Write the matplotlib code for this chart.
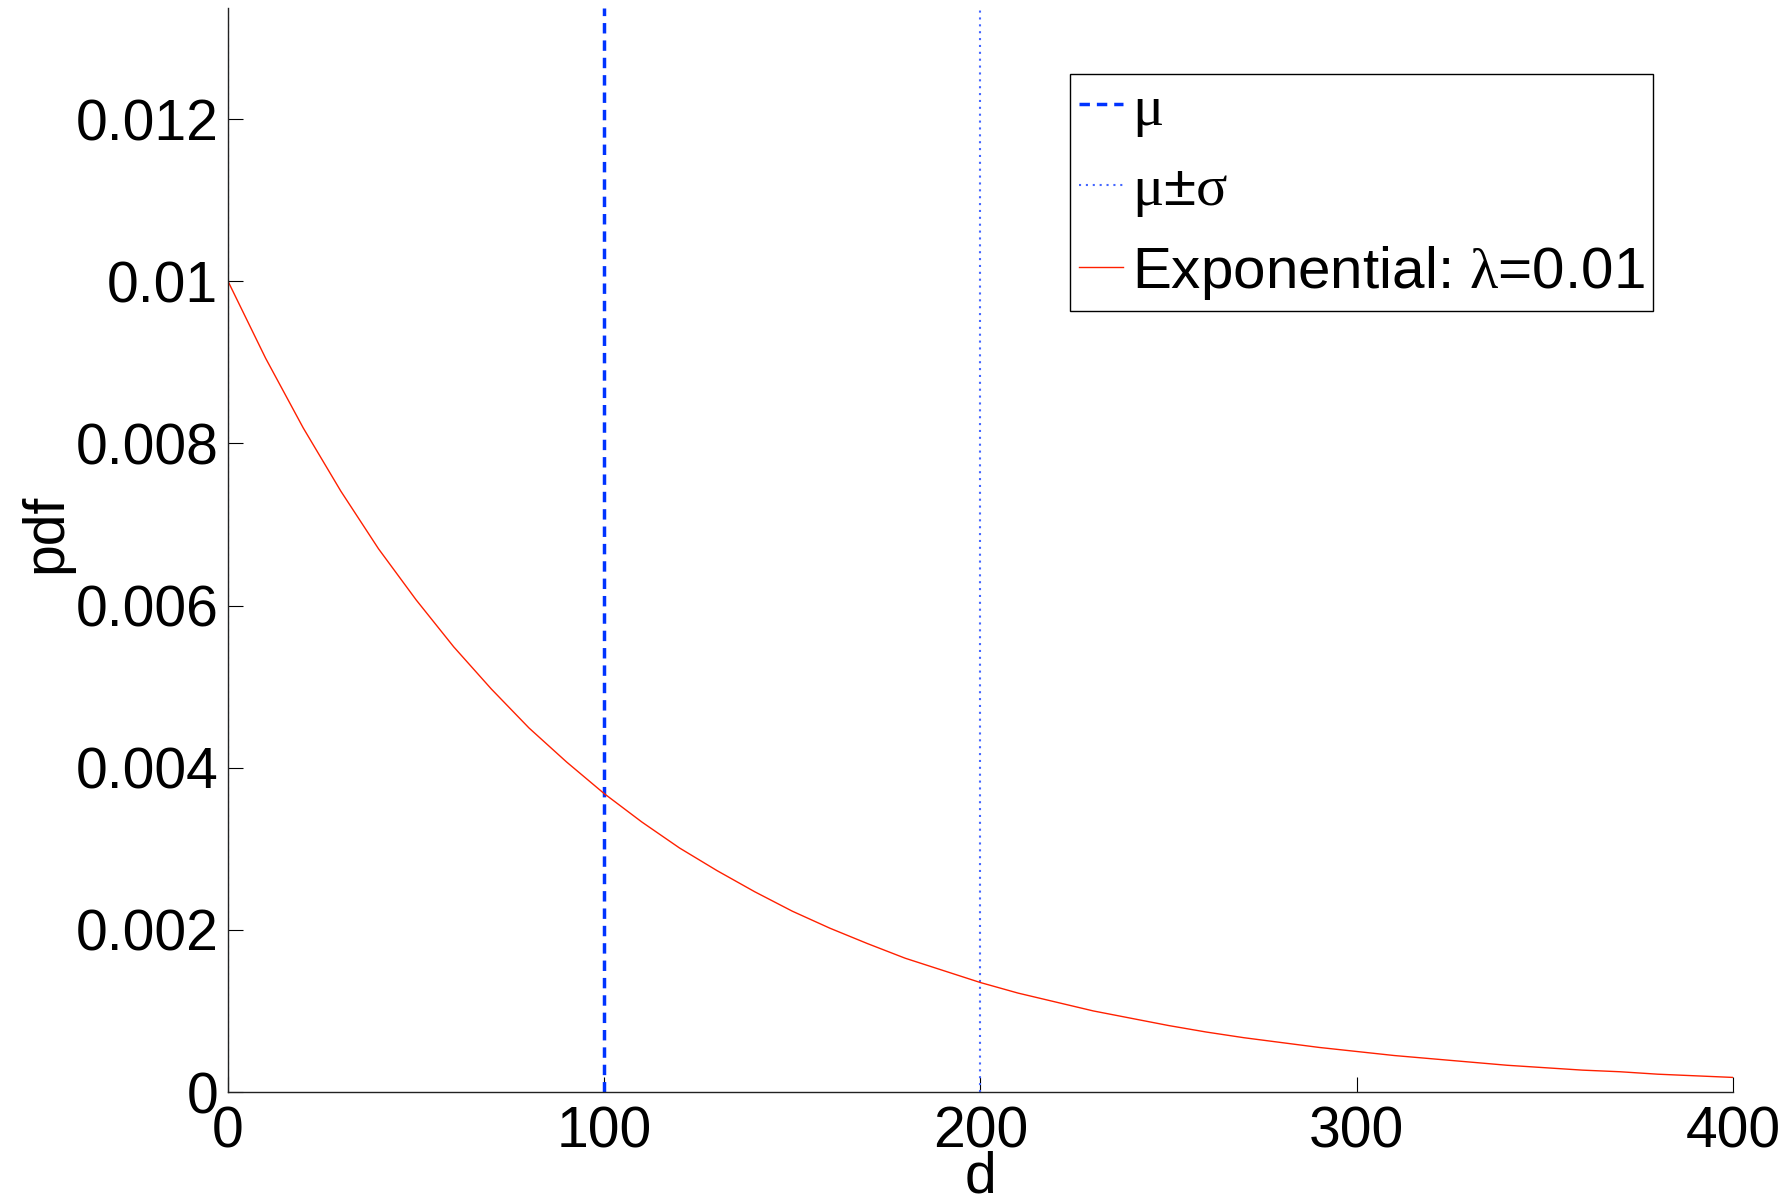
import matplotlib
matplotlib.use("Agg")
from matplotlib import pyplot as plt
from matplotlib.ticker import FixedLocator, FixedFormatter

plt.rcParams['font.family'] = ['Liberation Sans', 'DejaVu Sans']
plt.rcParams['mathtext.fontset'] = 'custom'
plt.rcParams['mathtext.rm'] = 'Liberation Serif'
plt.rcParams['mathtext.it'] = 'Liberation Serif:italic'

# curve, every 10 units of d
d = list(range(0, 401, 10))
pdf = [0.01000, 0.00905, 0.00819, 0.00741, 0.00670, 0.00607, 0.00549, 0.00497,
       0.00449, 0.00407, 0.00368, 0.00333, 0.00301, 0.00273, 0.00247, 0.00223,
       0.00202, 0.00183, 0.00165, 0.00150, 0.00135, 0.00122, 0.00111, 0.00100,
       0.00091, 0.00082, 0.00074, 0.00067, 0.00061, 0.00055, 0.00050, 0.00045,
       0.00041, 0.00037, 0.00033, 0.00030, 0.00027, 0.00025, 0.00022, 0.00020,
       0.00018]
mu = 100
sigma = 100
x_ticks = [0, 100, 200, 300, 400]
y_ticks = [0, 0.002, 0.004, 0.006, 0.008, 0.01, 0.012]
y_tick_labels = ['0', '0.002', '0.004', '0.006', '0.008', '0.01', '0.012']
y_top = 0.01337

fig = plt.figure(figsize=(17.91, 12.04), dpi=100)
ax = fig.add_axes([0.1273, 0.0930, 0.8403, 0.9004])

ax.axvline(mu, color='#0033ff', lw=2.5, ls=(0, (3, 2)), label=r'$\mathrm{\mu}$')
ax.axvline(mu - sigma, color='#4466ff', lw=1.5, ls=(0, (1, 2.3)),
           label=r'$\mathrm{\mu}$±$\mathrm{\sigma}$')
ax.axvline(mu + sigma, color='#4466ff', lw=1.5, ls=(0, (1, 2.3)))
ax.plot(d, pdf, color='#ff2000', lw=1.0, label=r'Exponential: $\mathrm{\lambda}$=0.01')

ax.set_xlim(0, 400)
ax.set_ylim(0, y_top)
ax.xaxis.set_major_locator(FixedLocator(x_ticks))
ax.yaxis.set_major_locator(FixedLocator(y_ticks))
ax.yaxis.set_major_formatter(FixedFormatter(y_tick_labels))
ax.tick_params(direction='in', length=11, width=0.8, labelsize=41)
ax.tick_params(axis='x', pad=10)
ax.tick_params(axis='y', pad=7)
for s in ['top', 'right']:
    ax.spines[s].set_visible(False)
for s in ['left', 'bottom']:
    ax.spines[s].set_linewidth(1.0)
    ax.spines[s].set_color('#222222')

ax.set_xlabel('d', fontsize=41)
ax.set_ylabel('pdf', fontsize=41)
ax.xaxis.set_label_coords(0.5, -0.054)
ax.yaxis.set_label_coords(-0.103, 0.515)

leg = ax.legend(loc='upper left', bbox_to_anchor=(0.5598, 0.939), fontsize=42,
                handlelength=0.75, handletextpad=0.15, borderpad=0.15,
                labelspacing=0.42, borderaxespad=0, fancybox=False, framealpha=1)
leg.get_frame().set_edgecolor('black')
leg.get_frame().set_linewidth(1.0)

plt.savefig("out.png", dpi=100)
